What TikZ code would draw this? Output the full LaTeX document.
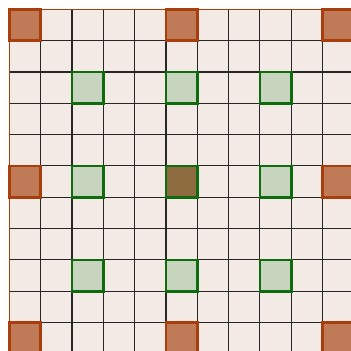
\documentclass[tikz,border=0pt]{standalone}
\begin{document}
\begin{tikzpicture}[x=1cm,y=1cm,
  gridline/.style={draw=black!85, line width=1pt},
  corner/.style={draw=orangeB, fill=orangeF, line width=2.4pt},
  greencell/.style={draw=greenB, fill=greenF, line width=2.4pt},
  centercell/.style={draw=greenB, fill=brownF, line width=2.4pt}]
\definecolor{bgF}{HTML}{F3EAE6}
\definecolor{orangeB}{HTML}{A83E0C}
\definecolor{orangeF}{HTML}{BF7A57}
\definecolor{greenB}{HTML}{0E6B0E}
\definecolor{greenF}{HTML}{C7D4BE}
\definecolor{brownF}{HTML}{8F6B40}
\useasboundingbox (-0.3,0.09) rectangle (10.91,11.3);
\clip (-0.3,0.09) rectangle (10.91,11.3);
\fill[bgF] (0,0) rectangle (11,11);
\foreach \i in {1,...,10} {
  \draw[gridline] (\i,0) -- (\i,11);
  \draw[gridline] (0,\i) -- (11,\i);
}
\draw[draw=orangeB, line width=1.6pt] (0,0) -- (0,11) -- (11,11) -- (11,0) -- cycle;
\foreach \c/\r [count=\k] in {0/0,5/0,10/0,0/5,10/5,0/10,5/10,10/10} {
  \path[corner] (\c,11-\r) rectangle ++(1,-1) coordinate (o\k);
}
\foreach \c/\r [count=\k] in {2/2,5/2,8/2,2/5,8/5,2/8,5/8,8/8} {
  \path[greencell] (\c,11-\r) rectangle ++(1,-1) coordinate (g\k);
}
\path[centercell] (5,6) rectangle (6,5) coordinate (ctr);
\end{tikzpicture}
\end{document}
